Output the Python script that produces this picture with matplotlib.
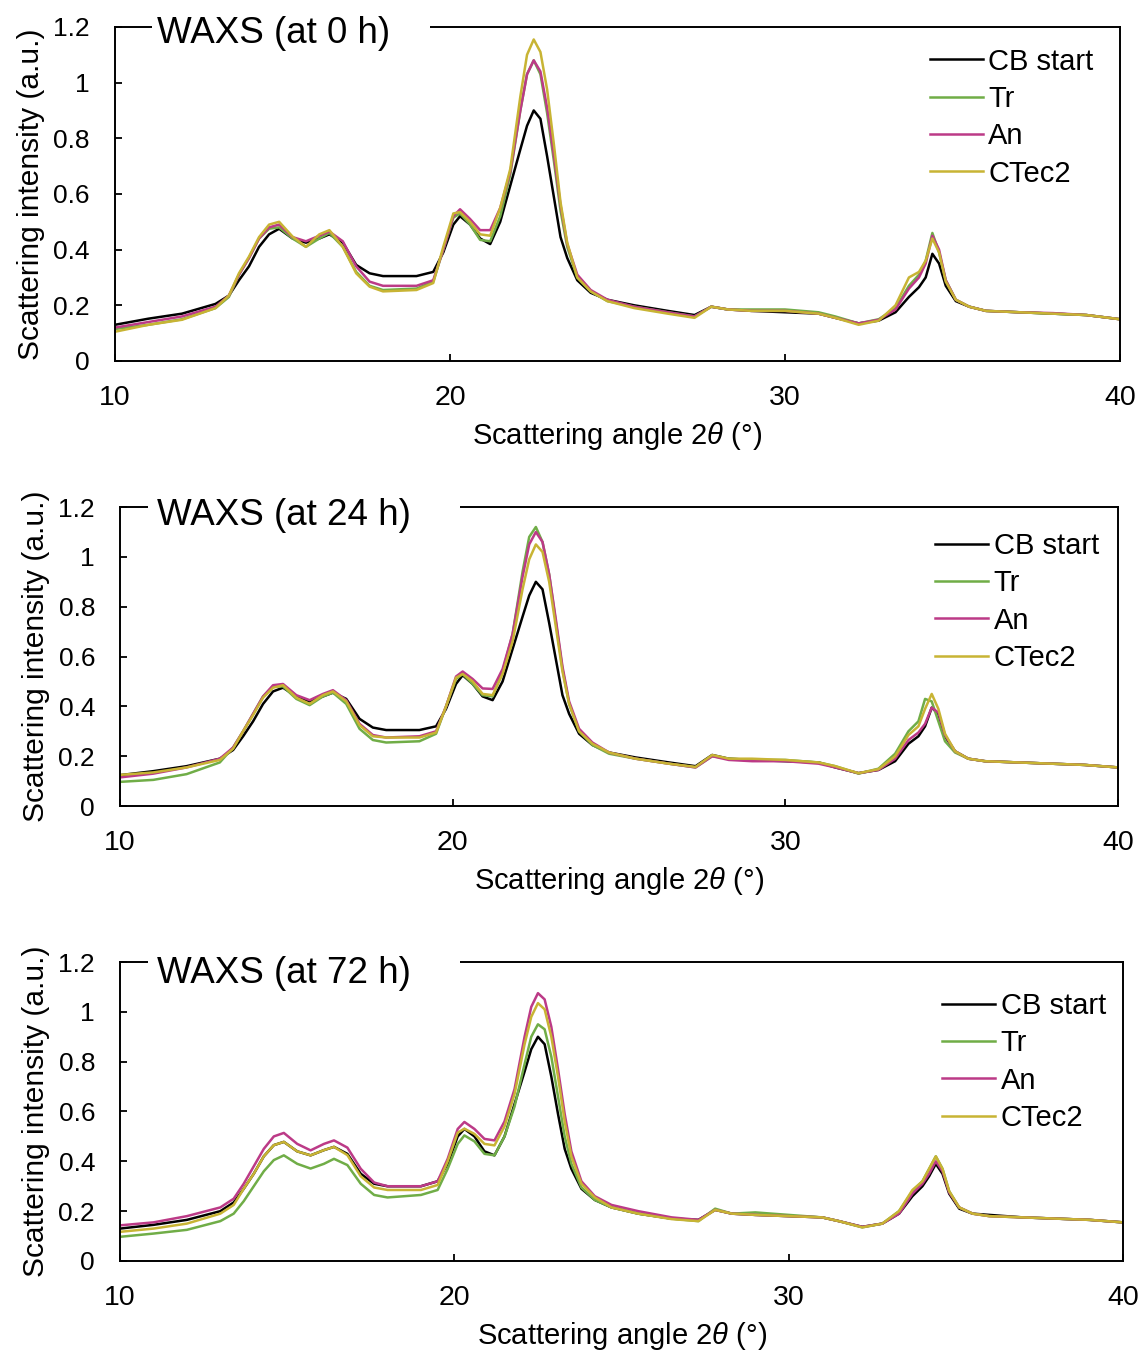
import matplotlib
matplotlib.use('Agg')
import matplotlib.pyplot as plt
from matplotlib.patches import Rectangle
from matplotlib.ticker import FuncFormatter

plt.rcParams['font.family'] = ['Liberation Sans', 'DejaVu Sans']
plt.rcParams['mathtext.fontset'] = 'custom'
plt.rcParams['mathtext.it'] = 'Liberation Sans:italic'
plt.rcParams['mathtext.rm'] = 'Liberation Sans'

# scattering angle 2theta (deg), shared by all curves
two_theta = [10, 11, 12, 13, 13.4, 13.7, 14.0, 14.3, 14.6, 14.9,
             15.3, 15.7, 16.1, 16.4, 16.8, 17.2, 17.6, 18, 19, 19.5,
             19.8, 20.1, 20.3, 20.6, 20.9, 21.2, 21.5, 21.8, 22.1, 22.3,
             22.5, 22.7, 22.9, 23.1, 23.3, 23.5, 23.8, 24.2, 24.7, 25.5,
             26.5, 27.3, 27.8, 28.3, 29, 30, 31, 31.5, 32.2, 32.8,
             33.3, 33.7, 34.0, 34.2, 34.4, 34.6, 34.8, 35.1, 35.5, 36,
             37, 38, 39, 40]

# ---- 0 h ----
cb_0h = [0.13, 0.152, 0.17, 0.205, 0.235, 0.29, 0.34, 0.41, 0.455, 0.475,
         0.44, 0.425, 0.44, 0.455, 0.425, 0.345, 0.315, 0.305, 0.305, 0.32,
         0.39, 0.49, 0.52, 0.49, 0.44, 0.42, 0.50, 0.63, 0.76, 0.845,
         0.90, 0.87, 0.735, 0.59, 0.445, 0.37, 0.29, 0.245, 0.22, 0.20,
         0.18, 0.165, 0.195, 0.185, 0.18, 0.175, 0.17, 0.155, 0.135, 0.145,
         0.175, 0.23, 0.265, 0.30, 0.385, 0.35, 0.27, 0.215, 0.195, 0.18,
         0.175, 0.17, 0.165, 0.15]
tr_0h = [0.115, 0.13, 0.15, 0.19, 0.23, 0.31, 0.37, 0.44, 0.475, 0.48,
         0.44, 0.41, 0.44, 0.46, 0.41, 0.32, 0.27, 0.255, 0.26, 0.285,
         0.40, 0.515, 0.53, 0.49, 0.435, 0.43, 0.52, 0.67, 0.90, 1.03,
         1.08, 1.03, 0.89, 0.72, 0.54, 0.41, 0.30, 0.25, 0.215, 0.195,
         0.175, 0.16, 0.195, 0.185, 0.185, 0.185, 0.175, 0.16, 0.135, 0.15,
         0.19, 0.27, 0.31, 0.36, 0.46, 0.39, 0.29, 0.22, 0.195, 0.18,
         0.175, 0.17, 0.165, 0.15]
an_0h = [0.12, 0.14, 0.16, 0.195, 0.235, 0.31, 0.37, 0.44, 0.48, 0.49,
         0.445, 0.43, 0.45, 0.465, 0.43, 0.34, 0.285, 0.27, 0.27, 0.29,
         0.40, 0.52, 0.545, 0.51, 0.47, 0.47, 0.55, 0.68, 0.90, 1.03,
         1.08, 1.04, 0.91, 0.74, 0.56, 0.42, 0.31, 0.255, 0.22, 0.195,
         0.175, 0.16, 0.195, 0.185, 0.18, 0.18, 0.17, 0.155, 0.135, 0.148,
         0.185, 0.26, 0.30, 0.35, 0.45, 0.40, 0.29, 0.22, 0.195, 0.18,
         0.175, 0.172, 0.165, 0.15]
ctec2_0h = [0.105, 0.13, 0.148, 0.19, 0.235, 0.315, 0.375, 0.445, 0.49, 0.50,
            0.447, 0.41, 0.455, 0.47, 0.41, 0.315, 0.267, 0.25, 0.255, 0.28,
            0.41, 0.53, 0.535, 0.50, 0.455, 0.45, 0.55, 0.69, 0.95, 1.10,
            1.155, 1.11, 0.975, 0.78, 0.57, 0.425, 0.30, 0.25, 0.215, 0.19,
            0.17, 0.155, 0.195, 0.185, 0.18, 0.18, 0.17, 0.155, 0.13, 0.145,
            0.20, 0.30, 0.32, 0.36, 0.44, 0.39, 0.285, 0.22, 0.195, 0.18,
            0.175, 0.17, 0.165, 0.15]

# ---- 24 h ----
cb_24h = [0.124, 0.14, 0.16, 0.19, 0.225, 0.28, 0.34, 0.41, 0.46, 0.475,
          0.44, 0.42, 0.44, 0.455, 0.43, 0.35, 0.315, 0.305, 0.305, 0.32,
          0.39, 0.49, 0.525, 0.49, 0.44, 0.425, 0.50, 0.63, 0.76, 0.845,
          0.90, 0.87, 0.735, 0.59, 0.445, 0.37, 0.29, 0.245, 0.215, 0.195,
          0.175, 0.16, 0.205, 0.19, 0.185, 0.18, 0.175, 0.155, 0.132, 0.145,
          0.18, 0.25, 0.28, 0.32, 0.395, 0.37, 0.28, 0.22, 0.19, 0.18,
          0.175, 0.17, 0.165, 0.155]
tr_24h = [0.097, 0.105, 0.128, 0.175, 0.235, 0.30, 0.37, 0.44, 0.48, 0.48,
          0.43, 0.405, 0.44, 0.455, 0.41, 0.31, 0.265, 0.255, 0.26, 0.29,
          0.40, 0.51, 0.53, 0.49, 0.445, 0.44, 0.54, 0.69, 0.94, 1.08,
          1.12, 1.06, 0.93, 0.74, 0.55, 0.41, 0.30, 0.245, 0.21, 0.19,
          0.17, 0.155, 0.20, 0.19, 0.185, 0.185, 0.175, 0.16, 0.13, 0.15,
          0.21, 0.30, 0.34, 0.43, 0.42, 0.34, 0.26, 0.215, 0.19, 0.18,
          0.175, 0.17, 0.165, 0.155]
an_24h = [0.115, 0.13, 0.155, 0.19, 0.235, 0.30, 0.37, 0.44, 0.485, 0.49,
          0.445, 0.425, 0.45, 0.465, 0.425, 0.33, 0.285, 0.275, 0.28, 0.30,
          0.40, 0.52, 0.54, 0.51, 0.472, 0.47, 0.55, 0.69, 0.92, 1.05,
          1.10, 1.06, 0.93, 0.75, 0.56, 0.42, 0.31, 0.255, 0.215, 0.19,
          0.17, 0.155, 0.20, 0.185, 0.18, 0.18, 0.17, 0.155, 0.132, 0.145,
          0.19, 0.265, 0.295, 0.33, 0.395, 0.375, 0.285, 0.22, 0.19, 0.18,
          0.175, 0.17, 0.165, 0.155]
ctec2_24h = [0.125, 0.135, 0.155, 0.185, 0.23, 0.30, 0.365, 0.435, 0.475, 0.485,
             0.435, 0.41, 0.445, 0.46, 0.42, 0.325, 0.28, 0.275, 0.275, 0.295,
             0.40, 0.515, 0.53, 0.50, 0.45, 0.445, 0.53, 0.66, 0.87, 0.99,
             1.05, 1.02, 0.90, 0.72, 0.54, 0.41, 0.30, 0.25, 0.215, 0.19,
             0.17, 0.157, 0.205, 0.19, 0.19, 0.185, 0.175, 0.16, 0.132, 0.148,
             0.20, 0.285, 0.32, 0.39, 0.45, 0.39, 0.29, 0.22, 0.19, 0.18,
             0.175, 0.17, 0.165, 0.155]

# ---- 72 h ----
cb_72h = [0.13, 0.145, 0.165, 0.20, 0.235, 0.29, 0.35, 0.42, 0.465, 0.478,
          0.44, 0.424, 0.445, 0.458, 0.43, 0.35, 0.31, 0.30, 0.30, 0.32,
          0.39, 0.50, 0.53, 0.50, 0.44, 0.424, 0.50, 0.63, 0.76, 0.85,
          0.90, 0.87, 0.74, 0.59, 0.45, 0.37, 0.29, 0.245, 0.215, 0.19,
          0.17, 0.165, 0.205, 0.19, 0.185, 0.18, 0.175, 0.16, 0.137, 0.15,
          0.19, 0.26, 0.30, 0.34, 0.39, 0.35, 0.27, 0.21, 0.19, 0.185,
          0.175, 0.17, 0.165, 0.155]
tr_72h = [0.097, 0.11, 0.125, 0.16, 0.19, 0.24, 0.30, 0.36, 0.405, 0.424,
          0.39, 0.371, 0.39, 0.41, 0.385, 0.31, 0.265, 0.255, 0.265, 0.285,
          0.37, 0.47, 0.504, 0.48, 0.43, 0.424, 0.50, 0.62, 0.79, 0.90,
          0.95, 0.93, 0.82, 0.66, 0.50, 0.39, 0.295, 0.245, 0.215, 0.19,
          0.17, 0.16, 0.21, 0.19, 0.195, 0.185, 0.175, 0.16, 0.135, 0.15,
          0.20, 0.28, 0.32, 0.37, 0.42, 0.37, 0.28, 0.215, 0.19, 0.18,
          0.175, 0.17, 0.165, 0.155]
an_72h = [0.143, 0.155, 0.18, 0.215, 0.25, 0.31, 0.38, 0.45, 0.50, 0.514,
          0.47, 0.444, 0.47, 0.484, 0.455, 0.37, 0.315, 0.30, 0.30, 0.32,
          0.41, 0.53, 0.558, 0.53, 0.49, 0.484, 0.56, 0.69, 0.90, 1.02,
          1.075, 1.05, 0.94, 0.77, 0.59, 0.44, 0.32, 0.26, 0.225, 0.20,
          0.175, 0.165, 0.205, 0.19, 0.185, 0.18, 0.175, 0.16, 0.137, 0.15,
          0.19, 0.27, 0.31, 0.35, 0.40, 0.36, 0.275, 0.215, 0.19, 0.18,
          0.175, 0.17, 0.165, 0.155]
ctec2_72h = [0.117, 0.13, 0.15, 0.19, 0.225, 0.29, 0.35, 0.42, 0.465, 0.478,
             0.44, 0.424, 0.445, 0.458, 0.425, 0.34, 0.295, 0.285, 0.285, 0.305,
             0.40, 0.515, 0.531, 0.51, 0.47, 0.464, 0.54, 0.67, 0.87, 0.98,
             1.035, 1.01, 0.90, 0.74, 0.56, 0.42, 0.31, 0.255, 0.215, 0.19,
             0.168, 0.16, 0.205, 0.19, 0.185, 0.18, 0.175, 0.16, 0.135, 0.15,
             0.20, 0.285, 0.32, 0.37, 0.42, 0.37, 0.28, 0.215, 0.19, 0.18,
             0.175, 0.17, 0.165, 0.155]

labels = ['CB start', 'Tr', 'An', 'CTec2']
colors = ['#000000', '#70AD47', '#BC3A87', '#C8B434']
titles = ['WAXS (at 0 h)', 'WAXS (at 24 h)', 'WAXS (at 72 h)']
panels = [[cb_0h, tr_0h, an_0h, ctec2_0h],
          [cb_24h, tr_24h, an_24h, ctec2_24h],
          [cb_72h, tr_72h, an_72h, ctec2_72h]]

# layout (figure fractions) and decoration positions (axes fractions)
rects = [[0.1007, 0.7334, 0.8800, 0.2467],
         [0.1051, 0.4047, 0.8739, 0.2208],
         [0.1051, 0.0687, 0.8783, 0.2208]]
gaps = [(0.037, 0.313), (0.028, 0.341), (0.028, 0.339)]
title_pos = [(0.042, 0.952), (0.037, 0.94), (0.037, 0.931)]
leg_pos = [(0.811, 0.938), (0.817, 0.917), (0.82, 0.90)]

fig = plt.figure(figsize=(11.42, 13.54), dpi=100)

for i in range(3):
    ax = fig.add_axes(rects[i])
    for y, lab, c in zip(panels[i], labels, colors):
        ax.plot(two_theta, y, color=c, lw=1.8, label=lab)
    ax.set_xlim(10, 40)
    ax.set_ylim(0, 1.2)
    ax.set_xticks([10, 20, 30, 40])
    ax.set_yticks([0, 0.2, 0.4, 0.6, 0.8, 1.0, 1.2])
    ax.yaxis.set_major_formatter(FuncFormatter(lambda v, p: f'{v:g}'))
    ax.tick_params(axis='both', direction='in', length=5, width=1.3)
    ax.tick_params(axis='x', labelsize=20.5, pad=17)
    ax.tick_params(axis='y', labelsize=19, pad=18)
    ax.tick_params(right=False, top=False)
    for s in ax.spines.values():
        s.set_linewidth(1.4)
    ax.set_xlabel(r'Scattering angle 2$\it{\theta}$ (°)', fontsize=21, labelpad=7)
    ax.set_ylabel('Scattering intensity (a.u.)', fontsize=21.5, labelpad=6)

    # white gap in the top frame behind the panel title
    g0, g1 = gaps[i]
    ax.add_patch(Rectangle((g0, 0.97), g1 - g0, 0.06, transform=ax.transAxes,
                           facecolor='white', edgecolor='none', zorder=3, clip_on=False))
    ax.text(title_pos[i][0], title_pos[i][1], titles[i], transform=ax.transAxes,
            fontsize=26.5, va='baseline', ha='left', zorder=4)

    leg = ax.legend(loc='upper left', bbox_to_anchor=leg_pos[i], frameon=False,
                    fontsize=21, handlelength=1.8, handletextpad=0.2,
                    labelspacing=0.32, borderpad=0, borderaxespad=0)
    for h in leg.get_lines():
        h.set_linewidth(1.8)

fig.savefig('out.png', dpi=100)
